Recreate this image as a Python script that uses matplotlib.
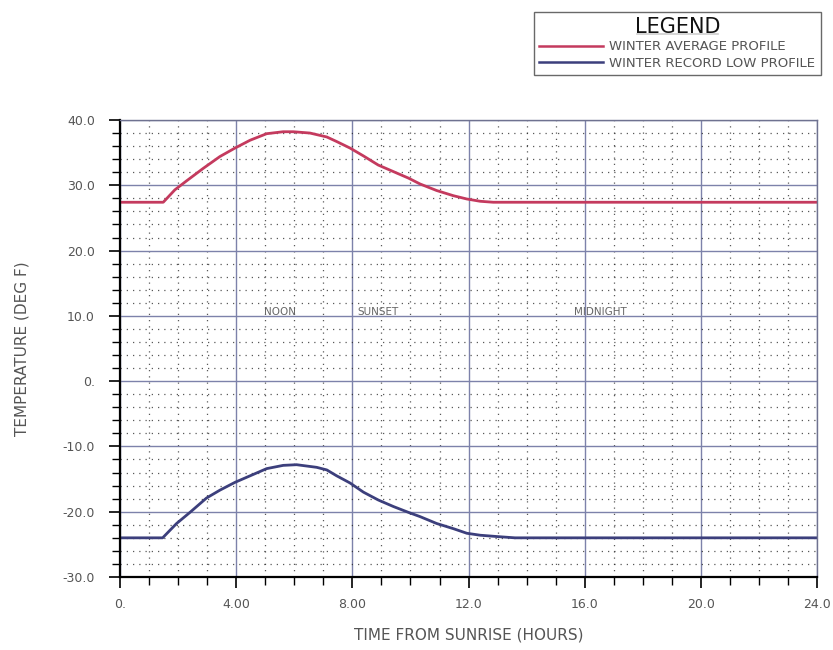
import matplotlib
matplotlib.use("Agg")
import matplotlib.pyplot as plt
from matplotlib.ticker import FixedLocator, FixedFormatter, MultipleLocator
from matplotlib.lines import Line2D

# ---- data ----
avg_hours = [0.0, 1.49, 1.89, 2.30, 2.87, 3.44, 3.96, 4.48, 5.05, 5.62, 5.97, 6.54, 7.12,
             7.46, 7.92, 8.38, 8.89, 9.41, 9.93, 10.33, 10.9, 11.48, 11.94, 12.4, 12.85, 24.0]
avg_temp = [27.4, 27.4, 29.3, 30.7, 32.6, 34.4, 35.7, 36.9, 37.9, 38.2, 38.2, 38.0, 37.4,
            36.7, 35.7, 34.5, 33.1, 32.1, 31.1, 30.2, 29.2, 28.4, 27.9, 27.55, 27.4, 27.4]

low_hours = [0.0, 1.47, 1.95, 2.41, 2.98, 3.44, 3.96, 4.48, 5.05, 5.62, 6.08, 6.77, 7.12,
             7.46, 7.92, 8.38, 8.89, 9.41, 9.93, 10.33, 10.9, 11.48, 11.94, 12.4, 12.97, 13.6, 24.0]
low_temp = [-24.0, -24.0, -21.8, -20.1, -17.9, -16.7, -15.5, -14.5, -13.4, -12.9, -12.8, -13.2, -13.6,
            -14.5, -15.6, -17.0, -18.2, -19.2, -20.1, -20.75, -21.8, -22.6, -23.3, -23.6, -23.8, -24.0, -24.0]

x_ticks = [0, 4, 8, 12, 16, 20, 24]
x_tick_labels = ["0.", "4.00", "8.00", "12.0", "16.0", "20.0", "24.0"]
y_ticks = [-30, -20, -10, 0, 10, 20, 30, 40]
y_tick_labels = ["-30.0", "-20.0", "-10.0", "0.", "10.0", "20.0", "30.0", "40.0"]

marker_labels = ["NOON", "SUNSET", "MIDNIGHT"]
marker_hours = [5.5, 8.87, 16.55]

series_names = ["WINTER AVERAGE PROFILE", "WINTER RECORD LOW PROFILE"]

RED = "#c43a5e"
BLUE = "#3c3f7c"
GRID_MAJOR = "#7d82aa"
TXT = "#555555"

fig = plt.figure(figsize=(8.33, 6.5), dpi=100)
ax = fig.add_axes([0.144, 0.1123, 0.837, 0.7031])

ax.set_xlim(0, 24)
ax.set_ylim(-30, 40)

ax.xaxis.set_major_locator(FixedLocator(x_ticks))
ax.xaxis.set_major_formatter(FixedFormatter(x_tick_labels))
ax.yaxis.set_major_locator(FixedLocator(y_ticks))
ax.yaxis.set_major_formatter(FixedFormatter(y_tick_labels))
ax.xaxis.set_minor_locator(MultipleLocator(1))
ax.yaxis.set_minor_locator(MultipleLocator(2))

ax.grid(which="major", color=GRID_MAJOR, linewidth=1.0, linestyle="-")
ax.grid(which="minor", color="#222222", linewidth=0.9, linestyle=(0, (1, 4)), alpha=0.75)
ax.set_axisbelow(True)

ax.tick_params(which="major", direction="out", length=8, width=1.2, colors="black",
               labelcolor=TXT, labelsize=9)
ax.tick_params(which="minor", direction="out", length=6, width=1.0, colors="black")
ax.tick_params(axis="x", pad=7)
ax.tick_params(axis="y", pad=10)

for side in ("left", "bottom"):
    ax.spines[side].set_color("black")
    ax.spines[side].set_linewidth(1.6)
for side in ("top", "right"):
    ax.spines[side].set_color("#6f7290")
    ax.spines[side].set_linewidth(1.0)

ax.plot(avg_hours, avg_temp, color=RED, linewidth=2.0)
ax.plot(low_hours, low_temp, color=BLUE, linewidth=2.0)

for lab, h in zip(marker_labels, marker_hours):
    ax.text(h, 10.6, lab, ha="center", va="center", fontsize=7.5, color="#666666")

ax.set_xlabel("TIME FROM SUNRISE (HOURS)", fontsize=11, color=TXT, labelpad=12)
ax.set_ylabel("TEMPERATURE (DEG F)", fontsize=11, color=TXT, labelpad=24)

# legend box
handles = [Line2D([], [], color=RED, linewidth=1.8), Line2D([], [], color=BLUE, linewidth=1.8)]
leg = fig.legend(handles, series_names, loc="upper right", bbox_to_anchor=(0.993, 0.992),
                 frameon=True, fancybox=False, fontsize=9.5, handlelength=4.8,
                 handletextpad=0.5, labelspacing=0.25, borderpad=0.4,
                 title="LEGEND", title_fontsize=15)
leg.get_frame().set_edgecolor("#444444")
leg.get_frame().set_linewidth(1.0)
for t in leg.get_texts():
    t.set_color(TXT)
leg.get_title().set_color("#111111")

fig.canvas.draw()
# underline the legend title
tb = leg.get_title().get_window_extent()
inv = fig.transFigure.inverted()
(x0, y0), (x1, y1) = inv.transform([(tb.x0 + 2, tb.y0 + 3), (tb.x1 - 2, tb.y0 + 3)])
fig.add_artist(Line2D([x0, x1], [y0, y0], color="#111111", linewidth=1.2))

fig.savefig("out.png", dpi=100)
